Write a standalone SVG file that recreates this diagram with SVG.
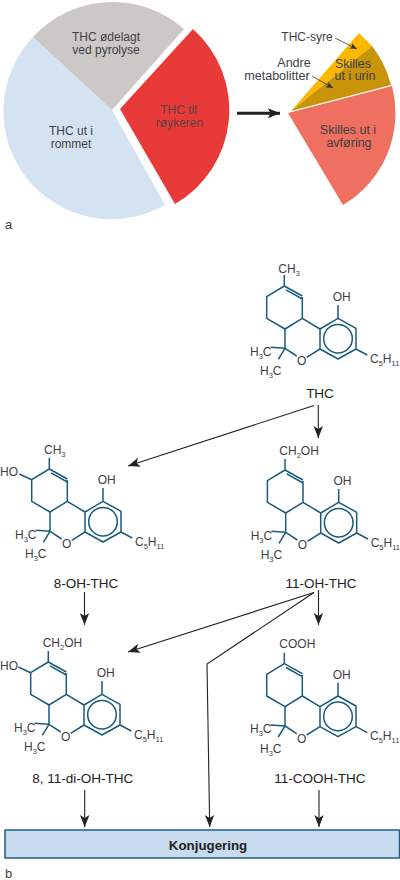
<svg xmlns="http://www.w3.org/2000/svg" width="400" height="880" viewBox="0 0 400 880">
<style>
text{font-family:"Liberation Sans",Arial,sans-serif;fill:#3f4144}
.p{font-size:12px;text-anchor:middle}
.q{font-size:12.5px;text-anchor:middle}
.a{font-size:12px}
.m{text-anchor:middle}
.n{font-size:13.5px;text-anchor:middle;fill:#222}
.s{font-size:7.5px}
.c{stroke:#222;stroke-width:1.1;fill:none;marker-end:url(#h)}
.sk{stroke:#1a5a7d;stroke-width:1.5;fill:none;stroke-linejoin:round}
</style>
<defs>
<marker id="h" markerUnits="userSpaceOnUse" markerWidth="14" markerHeight="12" refX="12" refY="6" orient="auto"><path d="M0,1.3 L12,6 L0,10.7 L3,6 z" fill="#222"/></marker>
<marker id="hs" markerUnits="userSpaceOnUse" markerWidth="8" markerHeight="8" refX="7" refY="4" orient="auto"><path d="M0,1 L7,4 L0,7 L1.5,4 z" fill="#333"/></marker>
<marker id="hb" markerUnits="userSpaceOnUse" markerWidth="14" markerHeight="12" refX="12" refY="6" orient="auto"><path d="M0,1 L12,6 L0,11 L2.5,6 z" fill="#222"/></marker>
<g id="skel" class="sk">
<path d="M284.3,286 L266.7,296.7 V318.3 L285,329 L302.3,318.3 V297 M284.3,286 L302.3,296 M286,289.8 L302.3,299 M284.3,286 V275"/>
<path d="M302.3,318.3 L320,329 L338,318.3 L356,328.3 V349 L338,359 L320,349 V329 M320,349 L306.7,357.3 M285,329 V348.3 L296.7,356 M338,318.3 V305 M356,349 L367.3,355 M285,348.3 L270.7,347.3 M285,348.3 L278.3,359.3"/>
<circle cx="338" cy="338.7" r="14.3"/>
</g>
</defs>
<g id="pie">
<path id="slice-blue" d="M112,110 L33,37 A108,108 0 0 0 165,205 Z" fill="#d5e2f1"/>
<path id="slice-gray" d="M112,110 L33,37 A108,108 0 0 1 184,29 Z" fill="#cbc8c6"/>
<path id="slice-red" d="M120,109 L193,29 A108.5,108.5 0 0 1 175,204 Z" fill="#e93a3a"/>
<text class="p" x="106" y="41">THC ødelagt</text>
<text class="p" x="106" y="53.5">ved pyrolyse</text>
<text class="p" x="71" y="135">THC ut i</text>
<text class="p" x="71" y="147.5">rommet</text>
<text class="p" x="178.500" y="114" style="fill:#5c4040">THC til</text>
<text class="p" x="179.500" y="127" style="fill:#5c4040">røykeren</text>
</g>
<g id="fate">
<path id="slice-salmon" d="M288,113 L392,86 A107,107 0 0 1 343,205 Z" fill="#ef6f60"/>
<path id="slice-yellow" d="M291,111 L359,33 L372,46 Z" fill="#fdb900"/>
<path id="slice-ochre" d="M291,111 L372,46 A104,104 0 0 1 391,85 Z" fill="#c8940a"/>
<text class="p" x="307" y="41">THC-syre</text>
<text class="q" x="294" y="67">Andre</text>
<text class="q" x="277" y="79.500">metabolitter</text>
<text class="q" x="353" y="67.500">Skilles</text>
<text class="q" x="355" y="80">ut i urin</text>
<text class="q" x="348" y="134">Skilles ut i</text>
<text class="q" x="349" y="147">avføring</text>
</g>
<text id="label-a" x="5" y="229" font-size="13">a</text>
<text id="label-b" x="5" y="878" font-size="13">b</text>
<g id="thc">
<use href="#skel"/>
<text class="a" x="278.300" y="272.700">CH<tspan class="s" dy="3">3</tspan></text>
<text class="a" x="332.700" y="301">OH</text>
<text class="a" x="370" y="362.700">C<tspan class="s" dy="3">5</tspan><tspan dy="-3">H</tspan><tspan class="s" dy="3">11</tspan></text>
<text class="a" x="250" y="355.700">H<tspan class="s" dy="3">3</tspan><tspan dy="-3">C</tspan></text>
<text class="a" x="260" y="375">H<tspan class="s" dy="3">3</tspan><tspan dy="-3">C</tspan></text>
<text class="a m" x="301.700" y="365">O</text>
<text class="n" x="320" y="398">THC</text>
</g>
<g id="oh8" transform="translate(-235,183)">
<use href="#skel"/>
<path class="sk" d="M254.300,291 L266.700,296.700"/>
<text class="a" x="235" y="293">HO</text>
<text class="a" x="279" y="271">CH<tspan class="s" dy="3">3</tspan></text>
<text class="a" x="332.700" y="301">OH</text>
<text class="a" x="370" y="362.700">C<tspan class="s" dy="3">5</tspan><tspan dy="-3">H</tspan><tspan class="s" dy="3">11</tspan></text>
<text class="a" x="250" y="355.700">H<tspan class="s" dy="3">3</tspan><tspan dy="-3">C</tspan></text>
<text class="a" x="260" y="375">H<tspan class="s" dy="3">3</tspan><tspan dy="-3">C</tspan></text>
<text class="a m" x="301.700" y="365">O</text>
<text class="n" x="321" y="405">8-OH-THC</text>
</g>
<g id="oh11" transform="translate(0.7,184)">
<use href="#skel"/>
<text class="a" x="278.600" y="271">CH<tspan class="s" dy="3">2</tspan><tspan dy="-3">OH</tspan></text>
<text class="a" x="332.700" y="301">OH</text>
<text class="a" x="370" y="362.700">C<tspan class="s" dy="3">5</tspan><tspan dy="-3">H</tspan><tspan class="s" dy="3">11</tspan></text>
<text class="a" x="250" y="355.700">H<tspan class="s" dy="3">3</tspan><tspan dy="-3">C</tspan></text>
<text class="a" x="260" y="375">H<tspan class="s" dy="3">3</tspan><tspan dy="-3">C</tspan></text>
<text class="a m" x="301.700" y="365">O</text>
<text class="n" x="320.300" y="404">11-OH-THC</text>
</g>
<g id="dioh" transform="translate(-236,376)">
<use href="#skel"/>
<path class="sk" d="M254.300,291 L266.700,296.700"/>
<text class="a" x="236" y="294">HO</text>
<text class="a" x="278.700" y="270.700">CH<tspan class="s" dy="3">2</tspan><tspan dy="-3">OH</tspan></text>
<text class="a" x="332.700" y="301">OH</text>
<text class="a" x="370" y="362.700">C<tspan class="s" dy="3">5</tspan><tspan dy="-3">H</tspan><tspan class="s" dy="3">11</tspan></text>
<text class="a" x="250" y="355.700">H<tspan class="s" dy="3">3</tspan><tspan dy="-3">C</tspan></text>
<text class="a" x="260" y="375">H<tspan class="s" dy="3">3</tspan><tspan dy="-3">C</tspan></text>
<text class="a m" x="301.700" y="365">O</text>
<text class="n" x="318.700" y="407">8, 11-di-OH-THC</text>
</g>
<g id="cooh" transform="translate(0,377.7)">
<use href="#skel"/>
<text class="a" x="279.300" y="270.600">COOH</text>
<text class="a" x="332.700" y="301">OH</text>
<text class="a" x="370" y="362.700">C<tspan class="s" dy="3">5</tspan><tspan dy="-3">H</tspan><tspan class="s" dy="3">11</tspan></text>
<text class="a" x="250" y="355.700">H<tspan class="s" dy="3">3</tspan><tspan dy="-3">C</tspan></text>
<text class="a" x="260" y="375">H<tspan class="s" dy="3">3</tspan><tspan dy="-3">C</tspan></text>
<text class="a m" x="301.700" y="365">O</text>
<text class="n" x="320" y="405.300">11-COOH-THC</text>
</g>
<g id="konjugering">
<rect x="5" y="830" width="394.500" height="28" fill="#c8daee" stroke="#1d5f82" stroke-width="1.500"/>
<text x="208" y="850" font-size="13.300" font-weight="bold" text-anchor="middle" style="fill:#222">Konjugering</text>
</g>
<g id="connectors">
<path d="M237,113.300 H280" stroke="#222" stroke-width="3" fill="none" marker-end="url(#hb)"/>
<path d="M335,38 L357,49" stroke="#333" stroke-width="0.800" fill="none" marker-end="url(#hs)"/>
<path d="M312,76 L333,88" stroke="#333" stroke-width="0.800" fill="none" marker-end="url(#hs)"/>
<path class="c" d="M318.300,405 V438"/>
<path class="c" d="M314,405.500 L128,466"/>
<path class="c" d="M84.500,592 V625"/>
<path class="c" d="M318.500,590 V625"/>
<path class="c" d="M314,592.500 L128,652"/>
<path class="c" d="M314,592.500 L207,664 L209.700,827"/>
<path class="c" d="M84.700,790 V827"/>
<path class="c" d="M319,790 V827"/>
</g>
</svg>
